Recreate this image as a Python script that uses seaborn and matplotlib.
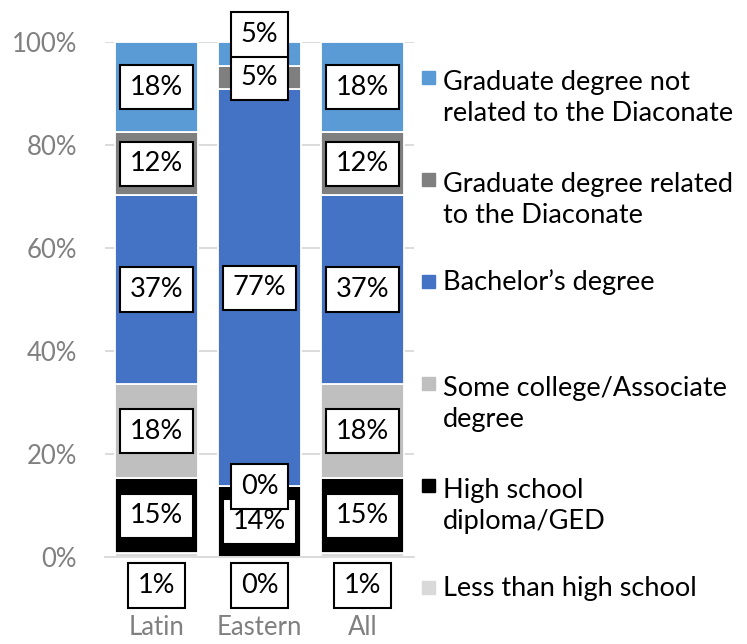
import numpy as np
import matplotlib
matplotlib.use('Agg')
import matplotlib.pyplot as plt
import seaborn as sns
from matplotlib.patches import Rectangle

# Dados (percentuais)
grupos = ['Latin', 'Eastern', 'All']
niveis = ['Less than high school',
          'High school\ndiploma/GED',
          'Some college/Associate\ndegree',
          'Bachelor’s degree',
          'Graduate degree related\nto the Diaconate',
          'Graduate degree not\nrelated to the Diaconate']
less_hs = [0.7, 0.0, 0.7]
high_school = [14.6, 13.7, 14.6]
some_college = [18.3, 0.0, 18.3]
bachelor = [36.6, 77.1, 36.6]
grad_related = [12.3, 4.6, 12.3]
grad_not_related = [17.5, 4.6, 17.5]
series = [less_hs, high_school, some_college, bachelor, grad_related, grad_not_related]
cores = ['#D9D9D9', '#000000', '#BFBFBF', '#4472C4', '#7F7F7F', '#5B9BD5']
yticks = [0, 20, 40, 60, 80, 100]

sns.set_style('white')
plt.rcParams['font.family'] = ['Lato', 'DejaVu Sans']

fig = plt.figure(figsize=(7.47, 6.44), dpi=100)
ax = fig.add_axes([105 / 747, 1 - 557 / 644, 309 / 747, 515 / 644])

base = np.zeros(len(grupos))
for vals, cor in zip(series, cores):
    sns.barplot(x=grupos, y=vals, bottom=base, color=cor, width=0.81,
                edgecolor='white', linewidth=1.3, saturation=1, ax=ax)
    base = base + np.array(vals)

# Rótulos de dados em caixas brancas
base = np.zeros(len(grupos))
for k, vals in enumerate(series):
    for i, v in enumerate(vals):
        if k == 0:
            y = -5.5
        else:
            y = base[i] + v / 2
        if grupos[i] == 'Eastern' and k == len(series) - 1:
            y += 3.8
        ax.text(i, y, f'{int(np.floor(v + 0.5))}%', ha='center', va='center',
                fontsize=19.5, color='black', clip_on=False, zorder=5,
                bbox=dict(boxstyle='square,pad=0.36', fc='white', ec='black', lw=1.5))
    base = base + np.array(vals)

ax.set_ylim(0, 100)
ax.set_xlim(-0.5, 2.5)
ax.set_yticks(yticks)
ax.set_yticklabels([f'{t}%' for t in yticks])
ax.yaxis.grid(True, color='#D9D9D9', linewidth=1.3)
ax.set_axisbelow(True)
for s in ['left', 'top', 'right']:
    ax.spines[s].set_visible(False)
ax.spines['bottom'].set_color('#D9D9D9')
ax.spines['bottom'].set_linewidth(1.3)
ax.set_xticks([-0.5, 0.5, 1.5, 2.5], minor=True)
ax.tick_params(axis='x', which='minor', length=6, width=1.3, color='#D9D9D9')
ax.tick_params(axis='x', which='major', length=0, pad=42, labelsize=18.5, labelcolor='#808080')
ax.tick_params(axis='y', length=0, pad=20, labelsize=18.5, labelcolor='#808080')
ax.set_xlabel('')
ax.set_ylabel('')

# Legenda desenhada à mão (quadrado alinhado com a primeira linha)
ov = fig.add_axes([0, 0, 1, 1])
ov.set_xlim(0, 747)
ov.set_ylim(644, 0)
ov.axis('off')
ov.patch.set_visible(False)
passo_linha = 35
for j, k in enumerate(range(len(niveis) - 1, -1, -1)):
    y0 = 77 + j * 102
    n_linhas = niveis[k].count('\n') + 1
    ov.add_patch(Rectangle((422, y0 - 6.5), 13, 13, color=cores[k]))
    ov.text(443, y0 + 9 + (n_linhas - 1) * passo_linha, niveis[k], ha='left',
            va='baseline', fontsize=19.5, color='black', linespacing=1.3)

plt.savefig('out.png', dpi=100)
plt.close()
